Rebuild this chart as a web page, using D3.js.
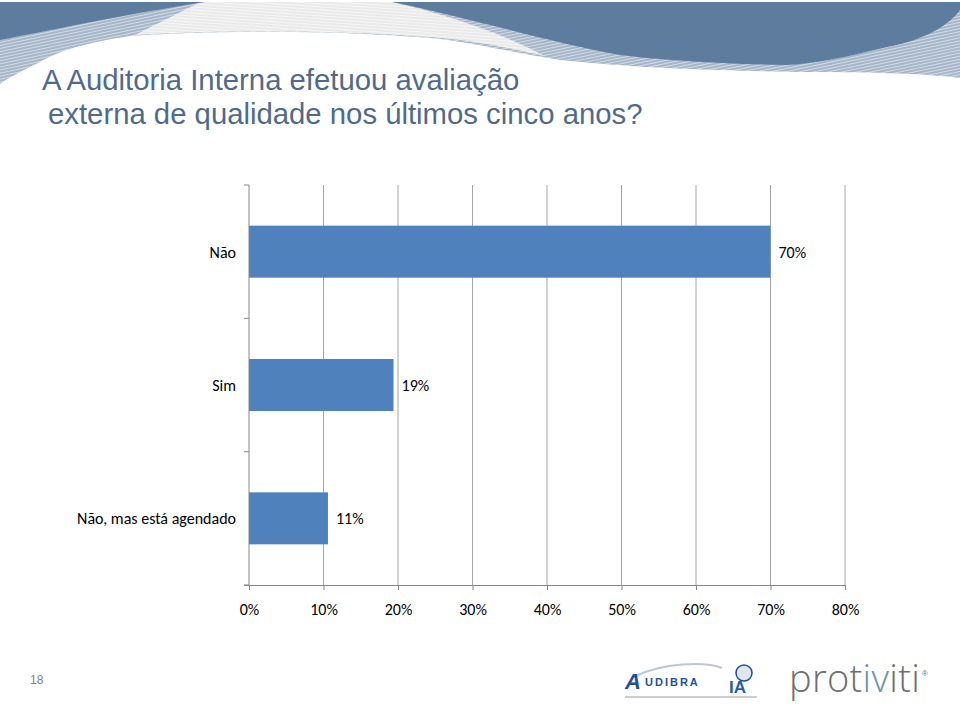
<!DOCTYPE html>
<html>
<head>
<meta charset="utf-8">
<script src="https://cdn.jsdelivr.net/npm/d3@7"></script>
<style>
  body { margin: 0; background: #fff; }
  svg { display: block; }
</style>
</head>
<body>
<svg id="slide" width="960" height="705"></svg>
<script>
// chart data
var categories = ["Não", "Sim", "Não, mas está agendado"];
var values = [0.70, 0.194, 0.106];
var valueLabels = ["70%", "19%", "11%"];
var xTicks = [0, 0.1, 0.2, 0.3, 0.4, 0.5, 0.6, 0.7, 0.8];
var titleLines = ["A Auditoria Interna efetuou avaliação", "externa de qualidade nos últimos cinco anos?"];

var svg = d3.select("svg#slide");
var defs = svg.append("defs");

// hatch patterns for the header waves
defs.append("pattern").attr("id", "hatchBlue").attr("patternUnits", "userSpaceOnUse")
	.attr("width", 6).attr("height", 3).attr("patternTransform", "rotate(-12)")
	.call(p => {
		p.append("rect").attr("width", 6).attr("height", 3).attr("fill", "#d3dce6");
		p.append("line").attr("x1", 0).attr("y1", 1).attr("x2", 6).attr("y2", 1)
			.attr("stroke", "#7890ad").attr("stroke-width", 1);
	});
defs.append("pattern").attr("id", "hatchGray").attr("patternUnits", "userSpaceOnUse")
	.attr("width", 6).attr("height", 3).attr("patternTransform", "rotate(4)")
	.call(p => {
		p.append("rect").attr("width", 6).attr("height", 3).attr("fill", "#f6f6f6");
		p.append("line").attr("x1", 0).attr("y1", 1).attr("x2", 6).attr("y2", 1)
			.attr("stroke", "#dedede").attr("stroke-width", 1);
	});

// header background
var header = svg.append("g");
header.append("path")
	.attr("d", "M0,2 H960 V78 C930,74 880,72 800,72 C700,70 640,68 560,60 C500,50 470,42 430,38 C330,30 220,30 130,36 C90,42 60,50 40,62 C20,72 8,78 0,84 Z")
	.attr("fill", "url(#hatchBlue)");
header.append("path")
	.attr("d", "M200,2 L392,2 C450,15 505,35 545,56 C500,46 470,40 430,37 C330,30 220,30 135,35 C160,22 185,10 200,2 Z")
	.attr("fill", "url(#hatchGray)");
header.append("path")
	.attr("d", "M0,2 H205 C140,12 60,28 0,40 Z")
	.attr("fill", "#5e7c9e");
header.append("path")
	.attr("d", "M392,2 H960 V10 C945,30 915,42 887,47 C850,56 815,64 787,65 C720,64 660,60 620,55 C560,45 470,18 392,2 Z")
	.attr("fill", "#5e7c9e");

// title
svg.append("g").selectAll("text")
	.data(titleLines)
	.join("text")
	.attr("x", (d, i) => i === 0 ? 42 : 48)
	.attr("y", (d, i) => 90 + i * 34)
	.style("font-family", "'Liberation Sans', Arial, sans-serif")
	.style("font-size", "29.3px")
	.attr("fill", "#4f6a8b")
	.text(d => d);

// chart
var x = d3.scaleLinear().domain([0, 0.8]).range([249, 845]);
var y = d3.scaleBand().domain(categories).range([185, 585]).paddingInner(0.61).paddingOuter(0.305);
var font = "Carlito, 'Liberation Sans Narrow', 'Noto Sans', sans-serif";

var chart = svg.append("g");

// gridlines
chart.append("g").selectAll("line")
	.data(xTicks.slice(1))
	.join("line")
	.attr("x1", d => x(d)).attr("x2", d => x(d))
	.attr("y1", 185).attr("y2", 585)
	.attr("stroke", "#a6a6a6").attr("stroke-width", 1);

// bars
chart.append("g").selectAll("rect")
	.data(categories)
	.join("rect")
	.attr("x", x(0))
	.attr("y", d => y(d))
	.attr("width", (d, i) => x(values[i]) - x(0))
	.attr("height", y.bandwidth())
	.attr("fill", "#4f81bd");

// value labels
chart.append("g").selectAll("text")
	.data(categories)
	.join("text")
	.attr("x", (d, i) => x(values[i]) + 8)
	.attr("y", d => y(d) + y.bandwidth() / 2 + 6)
	.style("font-family", font).style("font-size", "16px")
	.attr("fill", "#000")
	.text((d, i) => valueLabels[i]);

// x axis
var xAxis = chart.append("g")
	.attr("transform", "translate(0,585)")
	.call(d3.axisBottom(x).tickValues(xTicks).tickFormat(d3.format(".0%")).tickSize(5).tickPadding(14));
xAxis.select(".domain").attr("d", "M244,0.5H845").attr("stroke", "#868686");
xAxis.selectAll(".tick line").attr("stroke", "#868686");
xAxis.selectAll(".tick text")
	.style("font-family", font).style("font-size", "16px").attr("fill", "#000");

// y axis (ticks between categories)
var yAxis = chart.append("g").attr("transform", "translate(249,0)");
yAxis.append("line").attr("x1", 0).attr("x2", 0).attr("y1", 185).attr("y2", 585).attr("stroke", "#868686");
yAxis.selectAll("line.tk")
	.data(categories.concat(["end"]))
	.join("line").attr("class", "tk")
	.attr("x1", -5).attr("x2", 0)
	.attr("y1", (d, i) => 185 + i * y.step()).attr("y2", (d, i) => 185 + i * y.step())
	.attr("stroke", "#868686");
yAxis.selectAll("text")
	.data(categories)
	.join("text")
	.attr("x", -13)
	.attr("y", d => y(d) + y.bandwidth() / 2 + 6)
	.attr("text-anchor", "end")
	.style("font-family", font).style("font-size", "16px")
	.attr("fill", "#000")
	.text(d => d);

// footer
svg.append("text").attr("x", 30).attr("y", 684)
	.style("font-family", "'Liberation Sans Narrow', sans-serif").style("font-size", "12px")
	.attr("fill", "#7f7f7f").text("18");

var logos = svg.append("g");
// audibra
logos.append("path").attr("d", "M636,676 C662,663 705,661 722,668").attr("fill", "none")
	.attr("stroke", "#b9c7d8").attr("stroke-width", 2);
logos.append("text").attr("x", 625).attr("y", 689)
	.style("font-family", "'Liberation Sans', sans-serif").style("font-size", "22px").style("font-style", "italic").style("font-weight", "bold")
	.attr("fill", "#1f4e9a").text("A");
logos.append("text").attr("x", 645).attr("y", 686)
	.style("font-family", "'Liberation Sans', sans-serif").style("font-size", "11px").style("font-weight", "bold")
	.attr("letter-spacing", "2")
	.attr("fill", "#1f4e9a").text("UDIBRA");
logos.append("rect").attr("x", 625).attr("y", 696).attr("width", 132).attr("height", 2).attr("fill", "#cfcfcf");
// iia
logos.append("circle").attr("cx", 744).attr("cy", 673).attr("r", 8).attr("fill", "#dfe6ee").attr("stroke", "#1f4e9a").attr("stroke-width", 1.5);
logos.append("text").attr("x", 729).attr("y", 693)
	.style("font-family", "'Liberation Sans', sans-serif").style("font-size", "17px").style("font-weight", "bold")
	.attr("fill", "#1f5fa8").text("IA");
// protiviti
var prot = logos.append("text").attr("x", 789).attr("y", 692)
	.style("font-family", "'Open Sans', 'Noto Sans', sans-serif").style("font-size", "38px").style("font-weight", "300")
	.attr("letter-spacing", "0.3")
	.attr("fill", "#6d6e71");
prot.append("tspan").text("prot");
prot.append("tspan").attr("fill", "#6b8fb8").text("iv");
prot.append("tspan").text("iti");
logos.append("text").attr("x", 922).attr("y", 676)
	.style("font-family", "'Liberation Sans', sans-serif").style("font-size", "8px")
	.attr("fill", "#6d6e71").text("®");
</script>
</body>
</html>
